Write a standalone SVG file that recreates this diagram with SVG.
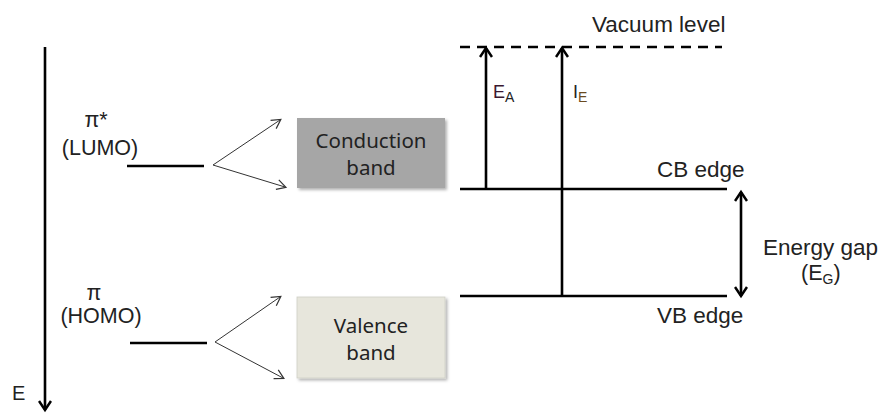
<svg xmlns="http://www.w3.org/2000/svg" width="884" height="414" viewBox="0 0 884 414">
<defs>
<marker id="open" markerWidth="12" markerHeight="12" refX="9" refY="6" orient="auto" markerUnits="userSpaceOnUse">
<path d="M1,1 L10,6 L1,11" fill="none" stroke="#333" stroke-width="1.2"/>
</marker>
<marker id="bold" markerWidth="14" markerHeight="14" refX="11" refY="7" orient="auto-start-reverse" markerUnits="userSpaceOnUse">
<path d="M2,1 L11,7 L2,13" fill="none" stroke="#000" stroke-width="2.5"/>
</marker>
<filter id="sh" x="-10%" y="-10%" width="125%" height="130%">
<feDropShadow dx="2" dy="2" stdDeviation="1.5" flood-color="#000" flood-opacity="0.3"/>
</filter>
</defs>
<style>
.t{font-family:"Liberation Sans",Arial,sans-serif;font-size:22.5px;fill:#222}
.l{font-size:21.5px}
.m{text-anchor:middle}
.sm{font-size:18px}
.s{font-size:14px}
.b{font-family:"Noto Sans","Open Sans",sans-serif;font-size:20.5px;fill:#222;text-anchor:middle}
.lv{stroke:#000;stroke-width:2.6;fill:none}
.th{stroke:#333;stroke-width:1;fill:none}
</style>
<rect width="884" height="414" fill="#fff"/>
<g id="connectors">
<line class="lv" x1="45" y1="47" x2="45" y2="410" marker-end="url(#bold)"/>
<line class="th" x1="213" y1="165" x2="280" y2="120" marker-end="url(#open)"/>
<line class="th" x1="213" y1="165" x2="285" y2="187" marker-end="url(#open)"/>
<line class="th" x1="215" y1="342" x2="280" y2="297" marker-end="url(#open)"/>
<line class="th" x1="215" y1="342" x2="283" y2="378" marker-end="url(#open)"/>
<line class="lv" x1="486" y1="189" x2="486" y2="48" marker-end="url(#bold)"/>
<line class="lv" x1="562" y1="296" x2="562" y2="48" marker-end="url(#bold)"/>
<line class="lv" x1="741" y1="192" x2="741" y2="296" marker-start="url(#bold)" marker-end="url(#bold)"/>
</g>
<g id="lumo">
<line class="lv" x1="127" y1="166" x2="204" y2="166"/>
<text class="t l m" x="96" y="127">π*</text>
<text class="t l m" x="100" y="155">(LUMO)</text>
</g>
<g id="homo">
<line class="lv" x1="130" y1="343" x2="207" y2="343"/>
<text class="t l m" x="94" y="300">π</text>
<text class="t l m" x="101" y="323">(HOMO)</text>
</g>
<g id="energy-axis-label">
<text class="t" x="12" y="400" style="font-size:20px">E</text>
</g>
<g id="conduction-band">
<rect x="297" y="118" width="148" height="70" fill="#a6a6a6" filter="url(#sh)"/>
<text class="b" x="371" y="148">Conduction</text>
<text class="b" x="371" y="175">band</text>
</g>
<g id="valence-band">
<rect x="297" y="297" width="148" height="81" fill="#e7e6dc" stroke="#cfcfc5" stroke-width="0.8" filter="url(#sh)"/>
<text class="b" x="371" y="333">Valence</text>
<text class="b" x="371" y="360">band</text>
</g>
<g id="vacuum">
<line x1="460" y1="47" x2="722" y2="47" stroke="#000" stroke-width="2.6" stroke-dasharray="10,7"/>
<text class="t" x="592" y="32">Vacuum level</text>
</g>
<g id="cb-edge">
<line class="lv" x1="460" y1="189" x2="727" y2="189"/>
<text class="t" x="657" y="177">CB edge</text>
</g>
<g id="vb-edge">
<line class="lv" x1="460" y1="296" x2="727" y2="296"/>
<text class="t" x="657" y="323">VB edge</text>
</g>
<g id="labels">
<text class="t sm" x="493" y="98" style="fill:#3a1830">E<tspan class="s" dy="4" style="fill:#222">A</tspan></text>
<text class="t sm" x="573" y="98">I<tspan class="s" dy="4" style="fill:#6a4a20">E</tspan></text>
<text class="t" x="763" y="255">Energy gap</text>
<text class="t l" x="801" y="280">(E<tspan class="s" dy="4">G</tspan><tspan dy="-4">)</tspan></text>
</g>
</svg>
